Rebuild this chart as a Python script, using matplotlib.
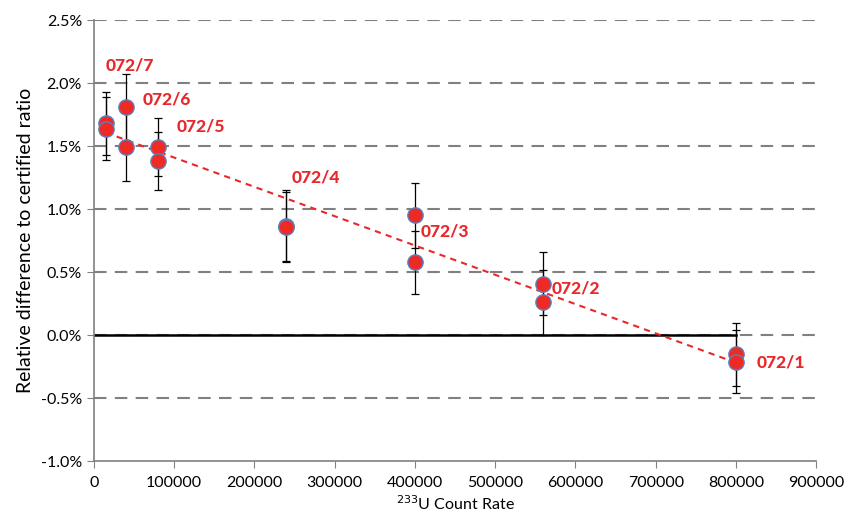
import matplotlib
matplotlib.use("Agg")
import matplotlib.pyplot as plt
import numpy as np

plt.rcParams['font.family'] = ['Lato', 'DejaVu Sans']

# Data
count_rate = [15000, 15000, 40000, 40000, 80000, 80000, 240000, 240000,
              400000, 400000, 560000, 560000, 800000, 800000]
rel_diff = [1.68, 1.64, 1.81, 1.49, 1.49, 1.38, 0.87, 0.86,
            0.95, 0.58, 0.41, 0.26, -0.15, -0.21]
err = [0.25, 0.25, 0.26, 0.27, 0.23, 0.23, 0.28, 0.28,
       0.26, 0.25, 0.25, 0.26, 0.25, 0.25]
labels = ["072/7", "072/6", "072/5", "072/4", "072/3", "072/2", "072/1"]
label_x = [45000, 91000, 133500, 277000, 437000, 600500, 856000]
label_y = [2.14, 1.87, 1.66, 1.25, 0.82, 0.37, -0.22]
yticks = [-1.0, -0.5, 0.0, 0.5, 1.0, 1.5, 2.0, 2.5]
xticks = list(range(0, 900001, 100000))

fig = plt.figure(figsize=(8.45, 5.17), dpi=100)
ax = fig.add_axes([0.111, 0.108, 0.855, 0.853])

for yt in yticks[1:]:
    ax.axhline(yt, color='#808080', lw=1.5, ls=(0, (6, 4)), zorder=1)
ax.plot([0, 800000], [0, 0], color='black', lw=1.8, zorder=2)

# trend line (linear fit)
coef = np.polyfit(count_rate, rel_diff, 1)
xl = np.array([min(count_rate), max(count_rate)])
ax.plot(xl, np.polyval(coef, xl), color='#e8282b', ls=(0, (3, 2.5)), lw=1.5, zorder=4)

ax.errorbar(count_rate, rel_diff, yerr=err, fmt='none', ecolor='black',
            elinewidth=0.9, capsize=3, capthick=0.9, zorder=3)
ax.plot(count_rate, rel_diff, 'o', color='#ee2a24', markeredgecolor='#5b7fc0',
        markeredgewidth=1.0, markersize=11, zorder=5, ls='none')

for t, x, y in zip(labels, label_x, label_y):
    ax.text(x, y, t, color='#e8282b', fontsize=12.5, fontweight='black',
            ha='center', va='center', zorder=6)

ax.set_xlim(0, 900000)
ax.set_ylim(-1.0, 2.5)
ax.set_yticks(yticks)
ax.set_yticklabels([f"{v:.1f}%" for v in yticks])
ax.set_xticks(xticks)
ax.set_xticklabels([str(v) for v in xticks])
ax.tick_params(axis='both', labelsize=11.5, color='#808080', length=5)
ax.tick_params(axis='x', direction='out', pad=6)
ax.tick_params(axis='y', direction='out')
for s in ['top', 'right']:
    ax.spines[s].set_visible(False)
for s in ['left', 'bottom']:
    ax.spines[s].set_color('#808080')
    ax.spines[s].set_linewidth(1.2)
ax.set_xlabel("$^{233}$U Count Rate", fontsize=11.5, labelpad=3)
ax.set_ylabel("Relative difference to certified ratio", fontsize=14, labelpad=5)

fig.savefig("out.png", dpi=100)
